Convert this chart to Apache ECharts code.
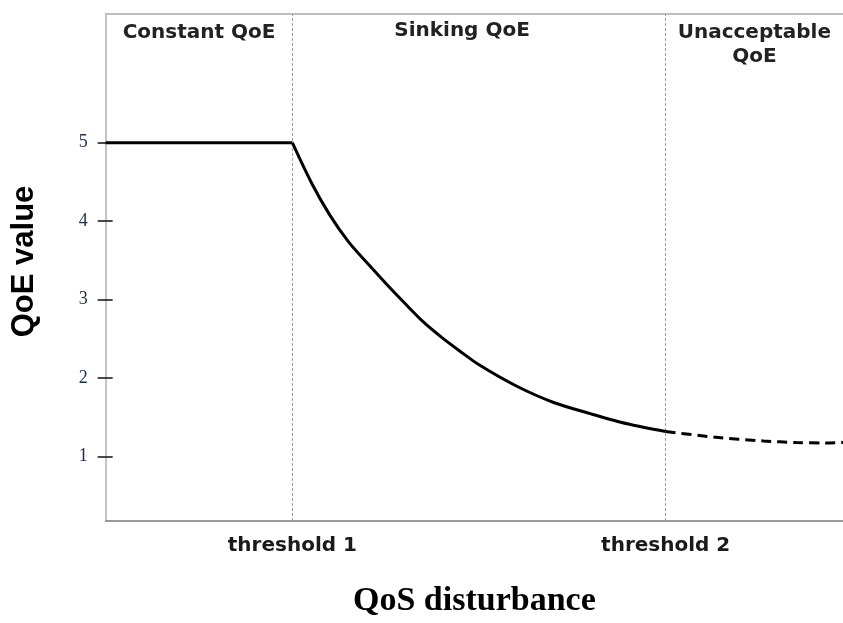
<!DOCTYPE html>
<html>
<head>
<meta charset="utf-8">
<script src="https://cdn.jsdelivr.net/npm/echarts@6/dist/echarts.min.js"></script>
<style>
html,body{margin:0;padding:0;background:#fff;overflow:hidden;}
#chart{width:843px;height:623px;}
</style>
</head>
<body>
<div id="chart"></div>
<script>
// ---- data ----
const constantX = [0, 1];
const constantY = [5, 5];
const sinkingX = [1.0, 1.1, 1.2, 1.3, 1.4, 1.5, 1.6, 1.7, 1.8, 1.9, 2.0, 2.2, 2.4, 2.6, 2.8, 3.0];
const sinkingY = [5.0, 4.5, 4.08, 3.74, 3.47, 3.21, 2.96, 2.72, 2.52, 2.34, 2.17, 1.90, 1.69, 1.545, 1.415, 1.32];
const unacceptableX = [3.0, 3.256, 3.524, 3.70, 3.855, 3.95];
const unacceptableY = [1.32, 1.25, 1.20, 1.18, 1.175, 1.18];
const thresholds = [1, 3];
const thresholdLabels = ['threshold 1', 'threshold 2'];
const regionNames = ['Constant QoE', 'Sinking QoE', 'Unacceptable\nQoE'];
const regionBounds = [[0, 1], [1, 3], [3, 3.95]];
const yTickValues = [1, 2, 3, 4, 5];
const yTickLabels = ['1', '2', '3', '4', '5'];

const zip = (xs, ys) => xs.map((x, i) => [x, ys[i]]);
const regionOffsets = [[0, 0], [-17, -2], [0, 0]];

const chart = echarts.init(document.getElementById('chart'), null, {renderer: 'canvas'});
const option = {
  backgroundColor: '#fff',
  animation: false,
  grid: {left: 105.7, right: 0, top: 14, bottom: 92.3},
  xAxis: [{
    type: 'value', min: 0, max: 3.95,
    name: 'QoS disturbance', nameLocation: 'middle', nameGap: 63,
    nameTextStyle: {fontFamily: 'Liberation Serif', fontWeight: 'bold', fontSize: 34, color: '#000'},
    axisLine: {show: true, onZero: false, lineStyle: {color: '#9a9a9a', width: 2}},
    axisTick: {show: false},
    splitLine: {show: false},
    axisLabel: {
      customValues: thresholds,
      margin: 15,
      fontFamily: 'DejaVu Sans', fontWeight: 'bold', fontSize: 20, color: '#1a1a1a',
      formatter: v => thresholdLabels[thresholds.indexOf(v)]
    }
  }, {
    type: 'value', min: 0, max: 3.95, position: 'top',
    axisLine: {show: true, onZero: false, lineStyle: {color: '#bdbdbd', width: 2}},
    axisTick: {show: false}, axisLabel: {show: false}, splitLine: {show: false}
  }],
  yAxis: [{
    type: 'value', min: 0.18, max: 6.64,
    name: 'QoE value', nameLocation: 'middle', nameRotate: 90, nameGap: 66,
    nameTextStyle: {fontFamily: 'Liberation Sans', fontWeight: 'bold', fontSize: 31, color: '#000', padding: [0, 0, 0, 12]},
    axisLine: {show: true, onZero: false, lineStyle: {color: '#c4c4c4', width: 2}},
    axisTick: {show: true, customValues: yTickValues, length: 8, lineStyle: {color: '#111', width: 1.5}},
    splitLine: {show: false},
    axisLabel: {
      customValues: yTickValues, margin: 18,
      fontFamily: 'Liberation Serif', fontSize: 18, color: '#1e2d4a',
      formatter: v => yTickLabels[yTickValues.indexOf(v)]
    }
  }, {
    type: 'value', min: 0.18, max: 6.64, position: 'left',
    axisLine: {show: false},
    axisTick: {show: true, inside: true, customValues: yTickValues, length: 7, lineStyle: {color: '#111', width: 1.5}},
    axisLabel: {show: false},
    splitLine: {show: false}
  }],
  series: [
    {
      type: 'line', data: zip(constantX, constantY), showSymbol: false, symbol: 'none',
      lineStyle: {color: '#000', width: 3}, z: 5, silent: true,
      markLine: {
        silent: true, symbol: 'none', label: {show: false},
        lineStyle: {color: '#9e9e9e', type: [3, 2], width: 1},
        data: thresholds.map(t => ({xAxis: t}))
      },
      markArea: {
        silent: true,
        itemStyle: {color: 'rgba(0,0,0,0)'},
        label: {
          show: true, position: 'insideTop', distance: 7,
          fontFamily: 'DejaVu Sans', fontWeight: 'bold', fontSize: 20, color: '#222',
          lineHeight: 24, align: 'center'
        },
        data: regionNames.map((n, i) => [
          {xAxis: regionBounds[i][0], name: n, label: {offset: regionOffsets[i]}},
          {xAxis: regionBounds[i][1]}
        ])
      }
    },
    {
      type: 'line', data: zip(sinkingX, sinkingY), smooth: 0.3, showSymbol: false, symbol: 'none',
      lineStyle: {color: '#000', width: 3}, z: 5, silent: true
    },
    {
      type: 'line', data: zip(unacceptableX, unacceptableY), smooth: 0.3, showSymbol: false, symbol: 'none',
      lineStyle: {color: '#000', width: 3, type: [10, 6]}, z: 5, silent: true
    }
  ]
};
chart.setOption(option);
</script>
</body>
</html>
